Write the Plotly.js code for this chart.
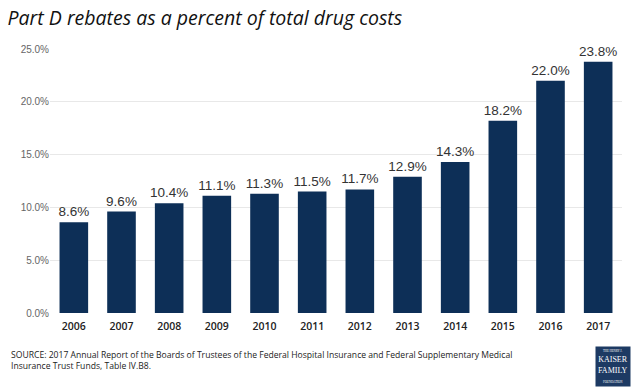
<!DOCTYPE html>
<html><head><meta charset="utf-8">
<script src="https://cdn.plot.ly/plotly-3.0.1.min.js"></script>
<style>html,body{margin:0;padding:0;background:#fff}#c{width:631px;height:387px}</style>
</head><body><div id="c"></div>
<script>
const years = ['2006','2007','2008','2009','2010','2011','2012','2013','2014','2015','2016','2017'];
const rebates = [8.6, 9.6, 10.4, 11.1, 11.3, 11.5, 11.7, 12.9, 14.3, 18.2, 22.0, 23.8];
const yTicks = [0, 5, 10, 15, 20, 25];

const trace = {
  type: 'bar', x: years, y: rebates,
  marker: {color: '#0d2f57'},
  text: rebates.map(v => v.toFixed(1) + '%'),
  textposition: 'outside', cliponaxis: false, constraintext: 'none',
  textfont: {family: 'Liberation Sans, Arial, sans-serif', size: 13.5, color: '#333'},
  hoverinfo: 'none'
};
const layout = {
  width: 631, height: 387,
  margin: {l: 50, r: 9, t: 49, b: 74},
  paper_bgcolor: '#fff', plot_bgcolor: '#fff',
  showlegend: false, bargap: 0.4,
  title: {text: '<i>Part D rebates as a percent of total drug costs</i>',
    x: 0.012, xanchor: 'left', y: 0.97, yanchor: 'top',
    font: {family: 'Open Sans, sans-serif', size: 19.5, color: '#111'}},
  xaxis: {type: 'category', tickfont: {family: 'Open Sans, sans-serif', size: 10.5, color: '#222', weight: 600},
    ticks: '', showline: false, showgrid: false, ticklabelstandoff: 5},
  yaxis: {range: [0, 25], tickvals: yTicks, ticktext: yTicks.map(v => v.toFixed(1) + '%'),
    tickfont: {family: 'Liberation Sans, Arial, sans-serif', size: 10, color: '#666'},
    showgrid: true, gridcolor: '#e8e8e8', gridwidth: 1, zeroline: false, ticks: '', ticklen: 0},
  annotations: [
    {xref: 'paper', yref: 'paper', x: -0.072, y: -0.128, xanchor: 'left', yanchor: 'top', align: 'left', showarrow: false,
     text: 'SOURCE: 2017 Annual Report of the Boards of Trustees of the Federal Hospital Insurance and Federal Supplementary Medical<br>Insurance Trust Funds, Table IV.B8.',
     font: {family: 'Open Sans, sans-serif', size: 8.6, color: '#222'}},
    {xref: 'paper', yref: 'paper', x: 1.015, y: -0.125, xanchor: 'right', yanchor: 'top', showarrow: false,
     text: '<span style="font-size:3px">THE HENRY J.</span><br>KAISER<br>FAMILY<br><span style="font-size:3px">FOUNDATION</span>',
     bgcolor: '#1d3a63', borderpad: 2, align: 'center',
     font: {family: 'Liberation Serif, serif', size: 8, color: '#fff'}}
  ]
};
Plotly.newPlot('c', [trace], layout, {staticPlot: true, displayModeBar: false});
</script></body></html>
